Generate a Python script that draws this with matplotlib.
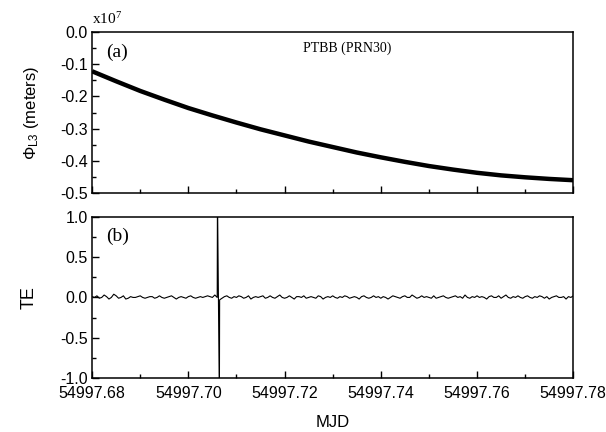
import numpy as np
import matplotlib
matplotlib.use('Agg')
import matplotlib.pyplot as plt
from matplotlib.ticker import MultipleLocator, FormatStrFormatter

plt.rcParams['font.family'] = 'Liberation Sans'
plt.rcParams['mathtext.fontset'] = 'custom'
plt.rcParams['mathtext.rm'] = 'Liberation Sans'
plt.rcParams['mathtext.it'] = 'Liberation Sans'

# ── Data (MJD offset from 54997, phase in units of 1e7 m) ─────────────────────
MJD0 = 54997.0
phase_mjd = [0.680, 0.685, 0.690, 0.695, 0.700, 0.705, 0.710, 0.715, 0.720, 0.725,
             0.730, 0.735, 0.740, 0.745, 0.750, 0.755, 0.760, 0.765, 0.770, 0.775, 0.780]
phase_l3 = [-0.122, -0.153, -0.183, -0.210, -0.236, -0.259, -0.281, -0.302, -0.321, -0.340,
            -0.357, -0.374, -0.389, -0.403, -0.416, -0.427, -0.437, -0.445, -0.451, -0.456, -0.460]

# TE series sampled every 0.0005 d from 0.680 to 0.780
te_start, te_step = 0.680, 0.0005
te_vals = [
    0.01, 0.00, 0.02, -0.01, 0.00, 0.03, 0.01, -0.02, 0.00, 0.04,
    0.02, -0.01, 0.00, 0.02, -0.02, -0.01, 0.01, 0.00, 0.00, 0.01,
    0.02, 0.00, -0.01, 0.00, 0.01, 0.01, -0.01, 0.00, 0.02, 0.00,
    -0.01, 0.00, 0.01, 0.02, 0.00, -0.02, 0.00, 0.01, 0.00, -0.01,
    0.01, 0.02, 0.00, -0.01, 0.00, 0.01, 0.00, 0.01, 0.02, 0.01,
    0.00, 0.03, 0.00, -0.03, -0.01, 0.01, 0.02, 0.00, -0.01, 0.01,
    0.00, 0.02, 0.01, -0.01, 0.00, 0.02, -0.02, 0.00, 0.01, 0.00,
    0.01, 0.02, -0.01, 0.00, 0.02, 0.00, -0.01, 0.01, 0.03, 0.00,
    -0.01, 0.00, 0.02, 0.00, -0.02, 0.01, 0.01, 0.00, 0.02, -0.01,
    0.00, 0.01, 0.00, -0.01, 0.02, 0.01, -0.02, 0.00, 0.01, 0.00,
    0.02, 0.00, -0.01, 0.01, 0.00, 0.02, 0.01, -0.01, 0.00, 0.01,
    0.00, -0.02, 0.01, 0.02, 0.00, -0.01, 0.00, 0.02, 0.00, 0.01,
    -0.01, 0.01, 0.00, -0.02, 0.00, 0.02, 0.01, 0.00, -0.01, 0.01,
    0.02, 0.00, 0.00, 0.03, 0.01, -0.01, 0.00, 0.02, 0.00, 0.01,
    0.00, -0.01, 0.02, -0.01, 0.00, 0.01, 0.02, 0.00, -0.01, 0.00,
    0.01, 0.02, 0.00, 0.01, -0.01, 0.03, 0.00, -0.01, 0.01, 0.00,
    0.02, 0.00, 0.01, 0.00, -0.02, 0.01, 0.02, 0.00, 0.00, 0.02,
    -0.01, 0.01, 0.03, 0.00, -0.01, 0.01, 0.00, 0.02, 0.00, -0.01,
    0.01, 0.02, 0.00, -0.01, 0.01, 0.00, 0.02, 0.01, -0.01, 0.01,
    -0.02, 0.00, 0.01, 0.02, 0.00, 0.00, 0.01, -0.02, 0.01, 0.00,
    0.02,
]
# cycle slip spike between two samples
spike_mjd = [0.70605, 0.70645]
spike_te = [1.3, -1.3]

te_mjd = [te_start + i * te_step for i in range(len(te_vals))]
pairs = sorted(zip(te_mjd + spike_mjd, te_vals + spike_te))
te_x = np.array([p[0] for p in pairs]) + MJD0
te_y = np.array([p[1] for p in pairs])

# ── Plot ──────────────────────────────────────────────────────────────────────
fig = plt.figure(figsize=(6.06, 4.32), dpi=100)
ax1 = fig.add_axes([0.152, 0.553, 0.794, 0.373])
ax2 = fig.add_axes([0.152, 0.125, 0.794, 0.373])

ax1.plot(np.array(phase_mjd) + MJD0, phase_l3, color='black', lw=3.2, solid_capstyle='butt')
ax2.plot(te_x, te_y, color='black', lw=0.8)

for ax in (ax1, ax2):
    ax.set_xlim(MJD0 + 0.68, MJD0 + 0.78)
    ax.xaxis.set_major_locator(MultipleLocator(0.02))
    ax.xaxis.set_minor_locator(MultipleLocator(0.01))
    ax.xaxis.set_major_formatter(FormatStrFormatter('%.2f'))
    ax.tick_params(which='both', direction='in', top=False, right=False, labelsize=11.5, width=1)
    ax.tick_params(which='major', length=5)
    ax.tick_params(axis='y', which='major', pad=3)
    ax.tick_params(axis='x', which='major', pad=6)
    ax.tick_params(which='minor', length=3)
    for s in ax.spines.values():
        s.set_linewidth(1.1)

ax1.set_ylim(-0.5, 0.0)
ax1.yaxis.set_major_locator(MultipleLocator(0.1))
ax1.yaxis.set_minor_locator(MultipleLocator(0.05))
ax1.yaxis.set_major_formatter(FormatStrFormatter('%.1f'))
ax1.tick_params(labelbottom=False)
ax1.set_ylabel(r'$\mathregular{\Phi_{L3}}$ (meters)', fontsize=12, labelpad=14)

ax2.set_ylim(-1.0, 1.0)
ax2.yaxis.set_major_locator(MultipleLocator(0.5))
ax2.yaxis.set_minor_locator(MultipleLocator(0.25))
ax2.yaxis.set_major_formatter(FormatStrFormatter('%.1f'))
ax2.set_ylabel('TE', fontsize=13, labelpad=16)
ax2.set_xlabel('MJD', fontsize=12, labelpad=10)

serif = 'Liberation Serif'
ax1.text(0.0, 1.03, r'x10$^{\mathregular{7}}$', transform=ax1.transAxes,
         fontsize=11, family=serif, ha='left', va='bottom')
ax1.text(0.03, 0.93, '(a)', transform=ax1.transAxes, fontsize=14, family=serif, va='top')
ax1.text(0.53, 0.94, 'PTBB (PRN30)', transform=ax1.transAxes, fontsize=10, family=serif,
         ha='center', va='top')
ax2.text(0.03, 0.93, '(b)', transform=ax2.transAxes, fontsize=14, family=serif, va='top')

plt.savefig('out.png', dpi=100)
